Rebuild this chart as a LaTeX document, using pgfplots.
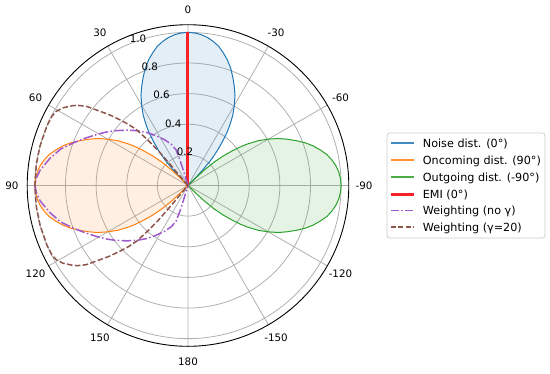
\documentclass[border=0pt]{standalone}
\usepackage{fontspec}
\setmainfont{DejaVu Sans}
\usepackage{pgfplots}
\pgfplotsset{compat=1.18}
\usepackage{pgfplotstable}
\usepgfplotslibrary{polar}

\definecolor{cblue}{HTML}{1F77B4}
\definecolor{corange}{HTML}{FF7F0E}
\definecolor{cgreen}{HTML}{2CA02C}
\definecolor{cred}{RGB}{245,35,40}
\definecolor{cpurple}{RGB}{160,88,205}
\definecolor{cbrown}{HTML}{8C564B}
\definecolor{gridgray}{HTML}{B0B0B0}
\definecolor{legframe}{HTML}{CCCCCC}

% angles t in degrees: 0 at top, counter-clockwise positive
\pgfplotstableread{
t r
-45.2 0
-44.5 0.065
-43.5 0.14
-42 0.225
-40 0.300
-38 0.370
-36.5 0.423
-35 0.472
-32.5 0.545
-30 0.605
-27.5 0.665
-25 0.715
-22.5 0.765
-20 0.815
-17.5 0.858
-15 0.895
-12.5 0.930
-10 0.955
-7.5 0.975
-5 0.989
-2.5 0.997
0 1.000
2.5 0.997
5 0.989
7.5 0.975
10 0.955
12.5 0.930
15 0.895
17.5 0.858
20 0.815
22.5 0.765
25 0.715
27.5 0.665
30 0.605
32.5 0.545
35 0.472
36.5 0.423
38 0.370
40 0.300
42 0.225
43.5 0.14
44.5 0.065
45.2 0
}\noise

\pgfplotstableread{
t r
44.8 0
45.5 0.065
46.5 0.14
48 0.225
50 0.300
52 0.370
53.5 0.423
55 0.472
57.5 0.545
60 0.605
62.5 0.665
65 0.715
67.5 0.765
70 0.815
72.5 0.858
75 0.895
77.5 0.930
80 0.955
82.5 0.975
85 0.989
87.5 0.997
90 1.000
92.5 0.997
95 0.989
97.5 0.975
100 0.955
102.5 0.930
105 0.895
107.5 0.858
110 0.815
112.5 0.765
115 0.715
117.5 0.665
120 0.605
122.5 0.545
125 0.472
126.5 0.423
128 0.370
130 0.300
132 0.225
133.5 0.14
134.5 0.065
135.2 0
}\oncoming

\pgfplotstableread{
t r
-135.2 0
-134.5 0.065
-133.5 0.14
-132 0.225
-130 0.300
-128 0.370
-126.5 0.423
-125 0.472
-122.5 0.545
-120 0.605
-117.5 0.665
-115 0.715
-112.5 0.765
-110 0.815
-107.5 0.858
-105 0.895
-102.5 0.930
-100 0.955
-97.5 0.975
-95 0.989
-92.5 0.997
-90 1.000
-87.5 0.997
-85 0.989
-82.5 0.975
-80 0.955
-77.5 0.930
-75 0.895
-72.5 0.858
-70 0.815
-67.5 0.765
-65 0.715
-62.5 0.665
-60 0.605
-57.5 0.545
-55 0.472
-53.5 0.423
-52 0.370
-50 0.300
-48 0.225
-46.5 0.14
-45.5 0.065
-44.8 0
}\outgoing

\pgfplotstableread{
t r
0 0
0 1
}\emi

\pgfplotstableread{
t r
16.5 0
17 0.10
17.5 0.18
18.5 0.245
22 0.29
27 0.335
33 0.39
38 0.44
43 0.49
48 0.54
53 0.595
57 0.64
61 0.685
65 0.735
69 0.79
74 0.865
79 0.92
84 0.97
87 0.99
90 1.0
93 0.99
96 0.97
101 0.92
106 0.865
111 0.79
115 0.735
119 0.685
123 0.64
127 0.595
132 0.54
137 0.49
142 0.44
147 0.39
153 0.335
158 0.29
161.5 0.245
162.5 0.18
163 0.10
163.5 0
}\wnog

\pgfplotstableread{
t r
40.5 0
40.3 0.10
40.2 0.20
40.5 0.30
41.5 0.40
42.7 0.496
44.3 0.56
46.1 0.62
48 0.69
50 0.757
52.1 0.842
54 0.89
55.3 0.916
58.2 0.962
60.7 0.988
63 0.997
67 1.0
75 1.0
82 1.0
90 1.0
98 1.0
105 1.0
113 1.0
117 0.997
119.3 0.988
121.8 0.962
124.7 0.916
126 0.89
127.9 0.842
130 0.757
132 0.69
133.9 0.62
135.7 0.56
137.3 0.496
138.5 0.40
139.5 0.30
139.8 0.20
139.7 0.10
139.5 0
}\wg

\begin{document}
\begin{tikzpicture}[
  alab/.style={anchor=center, inner sep=0pt, font=\fontsize{10.3}{12}\selectfont},
  rlab/.style={anchor=center, inner sep=0pt, xshift=8.7pt, yshift=5.6pt, font=\fontsize{10.3}{12}\selectfont},
  ltxt/.style={anchor=base west, inner sep=0pt, font=\fontsize{11.2}{13}\selectfont}]
\useasboundingbox (-188pt,-187.5pt) rectangle (362pt,185.5pt);
\begin{polaraxis}[
  at={(0pt,0pt)}, anchor=center,
  scale only axis, width=321.6pt, height=321.6pt,
  xmin=0, xmax=360, ymin=0, ymax=1.05,
  xtick={0,30,...,330}, xticklabels={},
  ytick={0.2,0.4,0.6,0.8,1.0}, yticklabels={},
  grid=major,
  major grid style={draw=gridgray, line width=0.8pt},
  tick style={draw=none},
  x axis line style={draw=black, line width=0.9pt},
  y axis line style={draw=none},
  clip=false,
]
\addplot[draw=cblue, line width=1pt, fill=cblue, fill opacity=0.12]
  table[x expr=\thisrow{t}+90, y=r] {\noise};
\addplot[draw=corange, line width=1pt, fill=corange, fill opacity=0.12]
  table[x expr=\thisrow{t}+90, y=r] {\oncoming};
\addplot[draw=cgreen, line width=1pt, fill=cgreen, fill opacity=0.12]
  table[x expr=\thisrow{t}+90, y=r] {\outgoing};
\addplot[draw=cred, line width=3pt]
  table[x expr=\thisrow{t}+90, y=r] {\emi};
\addplot[draw=cpurple, line width=1.5pt, dash pattern=on 9.6pt off 2.4pt on 1.5pt off 2.4pt]
  table[x expr=\thisrow{t}+90, y=r] {\wnog};
\addplot[draw=cbrown, line width=1.5pt, dash pattern=on 5.5pt off 2.4pt]
  table[x expr=\thisrow{t}+90, y=r] {\wg};

\node[alab] at (axis cs:90,1.1495) {0};
\node[alab] at (axis cs:120,1.1495) {30};
\node[alab] at (axis cs:150,1.1495) {60};
\node[alab] at (axis cs:180,1.1495) {90};
\node[alab] at (axis cs:210,1.1495) {120};
\node[alab] at (axis cs:240,1.1495) {150};
\node[alab] at (axis cs:270,1.1495) {180};
\node[alab] at (axis cs:300,1.1495) {-150};
\node[alab] at (axis cs:330,1.1495) {-120};
\node[alab] at (axis cs:0,1.1495) {-90};
\node[alab] at (axis cs:30,1.1495) {-60};
\node[alab] at (axis cs:60,1.1495) {-30};
\node[rlab] at (axis cs:112.5,0.2) {0.2};
\node[rlab] at (axis cs:112.5,0.4) {0.4};
\node[rlab] at (axis cs:112.5,0.6) {0.6};
\node[rlab] at (axis cs:112.5,0.8) {0.8};
\node[rlab] at (axis cs:112.5,1.0) {1.0};
\end{polaraxis}

% legend (frame, key lines, labels)
\draw[legframe, fill=white, line width=0.8pt, rounded corners=2.5pt]
  (199pt,52.5pt) rectangle (357pt,-52.5pt);
\draw[cblue, line width=1.8pt, draw opacity=0.85] (203pt,42.5pt) -- (226.3pt,42.5pt);
\node[ltxt] at (234.7pt,38.5pt) {Noise dist. (0°)};
\draw[corange, line width=1.8pt, draw opacity=0.85] (203pt,25.2pt) -- (226.3pt,25.2pt);
\node[ltxt] at (234.7pt,21.2pt) {Oncoming dist. (90°)};
\draw[cgreen, line width=1.8pt, draw opacity=0.85] (203pt,8.2pt) -- (226.3pt,8.2pt);
\node[ltxt] at (234.7pt,4.2pt) {Outgoing dist. (-90°)};
\draw[cred, line width=3.5pt] (203pt,-9.2pt) -- (226.3pt,-9.2pt);
\node[ltxt] at (234.7pt,-13.2pt) {EMI (0°)};
\draw[cpurple, line width=1.4pt, dash pattern=on 8pt off 2.4pt on 1.5pt off 2.4pt] (203pt,-25.2pt) -- (226.3pt,-25.2pt);
\node[ltxt] at (234.7pt,-29.2pt) {Weighting (no γ)};
\draw[cbrown, line width=1.4pt, dash pattern=on 5pt off 2.5pt] (203pt,-41.5pt) -- (226.3pt,-41.5pt);
\node[ltxt] at (234.7pt,-45.5pt) {Weighting (γ=20)};
\end{tikzpicture}
\end{document}
